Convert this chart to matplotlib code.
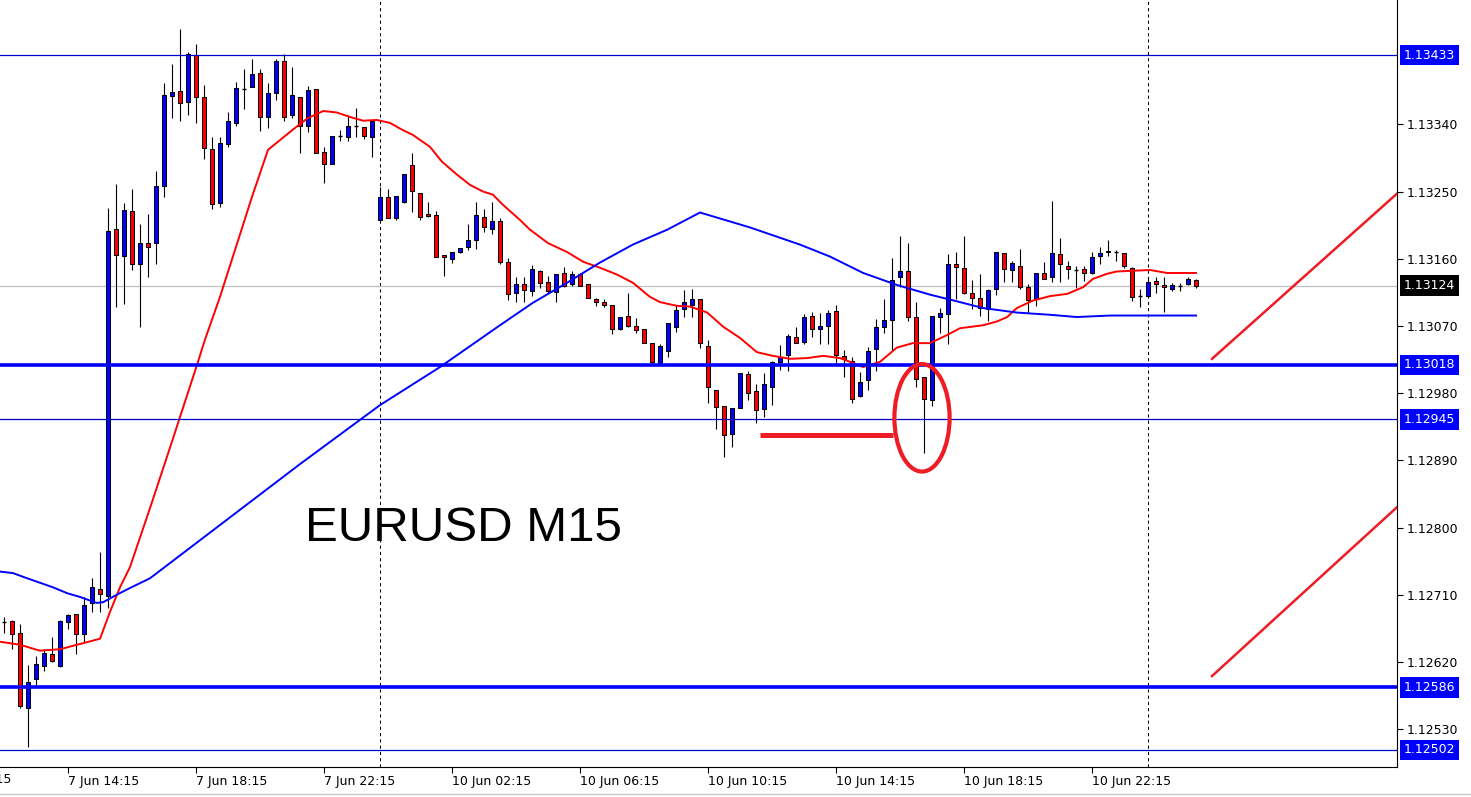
import numpy as np
import matplotlib.pyplot as plt
from matplotlib.patches import Ellipse
from matplotlib.transforms import blended_transform_factory

# EURUSD M15 candles, 7 Jun 12:15 .. 11 Jun 01:30 (one entry per bar)
opens = [1.12674, 1.12675, 1.12659, 1.12558, 1.12597, 1.12615, 1.12631, 1.12615, 1.12674, 1.12684,
         1.12657, 1.12699, 1.12718, 1.12708, 1.13200, 1.13164, 1.13224, 1.13153, 1.13181, 1.13181,
         1.13258, 1.13378, 1.13385, 1.13370, 1.13433, 1.13377, 1.13307, 1.13235, 1.13314, 1.13342,
         1.13388, 1.13390, 1.13409, 1.13350, 1.13382, 1.13425, 1.13353, 1.13377, 1.13338, 1.13388,
         1.13303, 1.13287, 1.13325, 1.13323, 1.13338, 1.13337, 1.13323, 1.13212, 1.13243, 1.13215,
         1.13236, 1.13285, 1.13248, 1.13220, 1.13219, 1.13165, 1.13160, 1.13169, 1.13176, 1.13185,
         1.13216, 1.13200, 1.13211, 1.13156, 1.13114, 1.13126, 1.13117, 1.13144, 1.13129, 1.13116,
         1.13141, 1.13126, 1.13140, 1.13126, 1.13106, 1.13102, 1.13098, 1.13066, 1.13084, 1.13070,
         1.13066, 1.13047, 1.13021, 1.13037, 1.13069, 1.13093, 1.13098, 1.13106, 1.13043, 1.12984,
         1.12963, 1.12925, 1.12960, 1.13006, 1.12983, 1.12959, 1.12988, 1.13022, 1.13031, 1.13055,
         1.13049, 1.13084, 1.13066, 1.13070, 1.13090, 1.13030, 1.13023, 1.12976, 1.12998, 1.13039,
         1.13069, 1.13078, 1.13135, 1.13144, 1.13082, 1.13002, 1.12971, 1.13082, 1.13086, 1.13153,
         1.13148, 1.13114, 1.13108, 1.13093, 1.13120, 1.13168, 1.13145, 1.13151, 1.13122, 1.13106,
         1.13141, 1.13136, 1.13167, 1.13151, 1.13145, 1.13147, 1.13141, 1.13164, 1.13169, 1.13169,
         1.13168, 1.13148, 1.13110, 1.13110, 1.13130, 1.13125, 1.13120, 1.13124, 1.13126, 1.13132]
highs = [1.12680, 1.12676, 1.12671, 1.12616, 1.12628, 1.12637, 1.12653, 1.12676, 1.12684, 1.12684,
         1.12707, 1.12732, 1.12767, 1.13228, 1.13260, 1.13235, 1.13254, 1.13206, 1.13220, 1.13278,
         1.13396, 1.13421, 1.13468, 1.13437, 1.13448, 1.13393, 1.13323, 1.13323, 1.13356, 1.13397,
         1.13414, 1.13427, 1.13414, 1.13396, 1.13427, 1.13435, 1.13417, 1.13377, 1.13392, 1.13388,
         1.13310, 1.13325, 1.13333, 1.13352, 1.13362, 1.13337, 1.13345, 1.13256, 1.13254, 1.13244,
         1.13274, 1.13302, 1.13248, 1.13236, 1.13224, 1.13165, 1.13169, 1.13175, 1.13206, 1.13236,
         1.13227, 1.13236, 1.13215, 1.13161, 1.13135, 1.13135, 1.13152, 1.13145, 1.13137, 1.13140,
         1.13149, 1.13143, 1.13141, 1.13126, 1.13108, 1.13106, 1.13098, 1.13082, 1.13114, 1.13081,
         1.13066, 1.13047, 1.13046, 1.13074, 1.13098, 1.13118, 1.13120, 1.13106, 1.13051, 1.12984,
         1.12963, 1.12960, 1.13007, 1.13010, 1.12992, 1.13007, 1.13023, 1.13045, 1.13059, 1.13068,
         1.13086, 1.13089, 1.13088, 1.13092, 1.13098, 1.13038, 1.13029, 1.13009, 1.13042, 1.13080,
         1.13106, 1.13161, 1.13191, 1.13181, 1.13102, 1.13002, 1.13084, 1.13094, 1.13167, 1.13169,
         1.13191, 1.13132, 1.13140, 1.13120, 1.13169, 1.13168, 1.13157, 1.13173, 1.13126, 1.13141,
         1.13156, 1.13238, 1.13188, 1.13157, 1.13151, 1.13151, 1.13169, 1.13176, 1.13185, 1.13172,
         1.13168, 1.13149, 1.13120, 1.13135, 1.13135, 1.13135, 1.13128, 1.13128, 1.13135, 1.13133]
lows = [1.12659, 1.12637, 1.12558, 1.12506, 1.12589, 1.12608, 1.12620, 1.12613, 1.12664, 1.12631,
        1.12645, 1.12687, 1.12687, 1.12692, 1.13096, 1.13100, 1.13145, 1.13069, 1.13136, 1.13153,
        1.13243, 1.13349, 1.13345, 1.13353, 1.13342, 1.13294, 1.13227, 1.13230, 1.13310, 1.13338,
        1.13361, 1.13390, 1.13331, 1.13335, 1.13373, 1.13345, 1.13349, 1.13302, 1.13330, 1.13302,
        1.13262, 1.13287, 1.13318, 1.13318, 1.13323, 1.13321, 1.13297, 1.13212, 1.13214, 1.13212,
        1.13235, 1.13223, 1.13212, 1.13216, 1.13163, 1.13137, 1.13155, 1.13168, 1.13172, 1.13173,
        1.13196, 1.13193, 1.13153, 1.13105, 1.13102, 1.13102, 1.13110, 1.13121, 1.13114, 1.13102,
        1.13122, 1.13124, 1.13124, 1.13108, 1.13097, 1.13096, 1.13059, 1.13065, 1.13069, 1.13061,
        1.13047, 1.13021, 1.13021, 1.13029, 1.13062, 1.13082, 1.13082, 1.13041, 1.12967, 1.12932,
        1.12895, 1.12908, 1.12960, 1.12971, 1.12940, 1.12948, 1.12964, 1.13011, 1.13010, 1.13047,
        1.13046, 1.13055, 1.13046, 1.13046, 1.13021, 1.13002, 1.12967, 1.12975, 1.12984, 1.13010,
        1.13061, 1.13038, 1.13122, 1.13077, 1.12988, 1.12900, 1.12963, 1.13061, 1.13046, 1.13106,
        1.13113, 1.13093, 1.13084, 1.13077, 1.13112, 1.13129, 1.13129, 1.13120, 1.13088, 1.13097,
        1.13133, 1.13129, 1.13129, 1.13133, 1.13121, 1.13130, 1.13139, 1.13153, 1.13164, 1.13157,
        1.13148, 1.13104, 1.13096, 1.13110, 1.13114, 1.13089, 1.13117, 1.13117, 1.13125, 1.13121]
closes = [1.12674, 1.12657, 1.12561, 1.12593, 1.12617, 1.12632, 1.12621, 1.12675, 1.12683, 1.12657,
          1.12696, 1.12720, 1.12711, 1.13197, 1.13165, 1.13226, 1.13153, 1.13181, 1.13176, 1.13258,
          1.13380, 1.13384, 1.13369, 1.13435, 1.13377, 1.13309, 1.13234, 1.13315, 1.13345, 1.13389,
          1.13388, 1.13408, 1.13350, 1.13382, 1.13425, 1.13350, 1.13380, 1.13338, 1.13386, 1.13302,
          1.13287, 1.13325, 1.13325, 1.13338, 1.13338, 1.13325, 1.13345, 1.13243, 1.13214, 1.13244,
          1.13274, 1.13251, 1.13216, 1.13218, 1.13163, 1.13163, 1.13169, 1.13175, 1.13185, 1.13219,
          1.13203, 1.13210, 1.13156, 1.13113, 1.13126, 1.13118, 1.13147, 1.13128, 1.13117, 1.13139,
          1.13124, 1.13140, 1.13124, 1.13108, 1.13102, 1.13098, 1.13066, 1.13082, 1.13070, 1.13065,
          1.13047, 1.13022, 1.13043, 1.13074, 1.13092, 1.13102, 1.13106, 1.13047, 1.12988, 1.12962,
          1.12924, 1.12960, 1.13007, 1.12980, 1.12958, 1.12992, 1.13022, 1.13029, 1.13057, 1.13047,
          1.13082, 1.13066, 1.13070, 1.13088, 1.13031, 1.13026, 1.12972, 1.12995, 1.13037, 1.13069,
          1.13078, 1.13132, 1.13144, 1.13082, 1.12999, 1.12972, 1.13084, 1.13088, 1.13153, 1.13149,
          1.13114, 1.13108, 1.13094, 1.13118, 1.13169, 1.13147, 1.13155, 1.13122, 1.13105, 1.13141,
          1.13133, 1.13168, 1.13153, 1.13147, 1.13145, 1.13141, 1.13163, 1.13168, 1.13171, 1.13169,
          1.13151, 1.13109, 1.13110, 1.13129, 1.13126, 1.13122, 1.13125, 1.13124, 1.13133, 1.13124]

# moving averages (bar position, price)
fast_ma_x = [-0.5, 2, 4.5, 7, 9.5, 12, 13.25, 14.5, 15.75, 18.25, 20.75, 24.1, 25.1, 27, 29, 31, 33,
             34.5, 36.1, 37.9, 39.9, 41.6, 43.25, 44.9, 46.6, 48.25, 49.75, 51.1, 53.25, 54.75, 56.6,
             58.25, 59.9, 61.1, 62.4, 64.5, 65.75, 68, 70.4, 72.4, 74.5, 76.6, 78.6, 80.75, 82, 84.1,
             85.75, 87.9, 89.9, 92, 94.1, 96.1, 98.25, 100.4, 102.4, 104.5, 105.75, 107.4, 109.5,
             111.6, 113.6, 115.75, 117.9, 119.5, 122.4, 124.1, 125.4, 126.6, 128.6, 130.75, 132.9,
             134.9, 136.1, 137.9, 139.1, 141.1, 143.25, 145.4, 149]
fast_ma = [1.12647, 1.12643, 1.12635, 1.12637, 1.12644, 1.12651, 1.12687, 1.12720, 1.12747, 1.12826,
           1.12907, 1.13017, 1.13051, 1.13109, 1.13176, 1.13243, 1.13306, 1.13319, 1.13333, 1.13348,
           1.13358, 1.13356, 1.13350, 1.13345, 1.13346, 1.13342, 1.13333, 1.13326, 1.13310, 1.13290,
           1.13273, 1.13259, 1.13250, 1.13246, 1.13232, 1.13212, 1.13199, 1.13181, 1.13169, 1.13156,
           1.13148, 1.13139, 1.13128, 1.13109, 1.13102, 1.13097, 1.13096, 1.13088, 1.13069, 1.13054,
           1.13035, 1.13030, 1.13026, 1.13027, 1.13030, 1.13027, 1.13022, 1.13015, 1.13022, 1.13041,
           1.13047, 1.13047, 1.13058, 1.13067, 1.13071, 1.13076, 1.13082, 1.13094, 1.13104, 1.13110,
           1.13113, 1.13122, 1.13133, 1.13140, 1.13143, 1.13144, 1.13145, 1.13141, 1.13141]
slow_ma_x = [-0.5, 1.1, 2.9, 4.5, 6.1, 7.9, 9.5, 11.6, 12.4, 14.1, 15.75, 18.25, 24.5, 30.75, 37, 47,
             54.5, 62, 66.1, 70.4, 74.5, 78.6, 82.9, 87, 93.25, 99.5, 103.25, 107.4, 111.6, 115.75,
             119.5, 122.4, 126.6, 130.75, 134.1, 138.25, 149]
slow_ma = [1.12741, 1.12739, 1.12732, 1.12726, 1.12720, 1.12712, 1.12707, 1.12699, 1.12700, 1.12710,
           1.12719, 1.12732, 1.12783, 1.12834, 1.12885, 1.12964, 1.13015, 1.13071, 1.13101, 1.13128,
           1.13155, 1.13179, 1.13199, 1.13222, 1.13202, 1.13179, 1.13163, 1.13141, 1.13125, 1.13112,
           1.13102, 1.13094, 1.13088, 1.13085, 1.13082, 1.13084, 1.13084]

# time axis
tick_bars = [-8, 8, 24, 40, 56, 72, 88, 104, 120, 136]
tick_labels = ["7 Jun 10:15", "7 Jun 14:15", "7 Jun 18:15", "7 Jun 22:15", "10 Jun 02:15",
               "10 Jun 06:15", "10 Jun 10:15", "10 Jun 14:15", "10 Jun 18:15", "10 Jun 22:15"]
day_breaks = [47, 143]

# price axis and drawn levels
price_ticks = [1.13340, 1.13250, 1.13160, 1.13070, 1.12980, 1.12890, 1.12800, 1.12710, 1.12620, 1.12530]
thin_levels = [1.13433, 1.12945, 1.12502]
thick_levels = [1.13018, 1.12586]
bid = 1.13124

# hand-drawn annotations (bar position, price)
trend_upper = ([151, 174.2], [1.13026, 1.13248])
trend_lower = ([151, 174.2], [1.12601, 1.12828])
support_seg = ([94.5, 111.1], [1.12924, 1.12924])
circle_center = (114.75, 1.12947)

BLUE = "#0000ff"
RED = "#ff0000"
MARK_RED = "#ee1c24"

fig = plt.figure(figsize=(14.71, 7.97), dpi=100)
ax = fig.add_axes([0, 30 / 797, 1397 / 1471, 767 / 797])
ax.set_xlim(-0.5, 174.125)
ax.set_ylim(1.124792, 1.135067)

# separators and bid line
for d in day_breaks:
    ax.axvline(d, color="black", lw=0.75, linestyle=(0, (3, 3)), zorder=1)
ax.axhline(bid, color="#c0c0c0", lw=0.9, zorder=1)

# candles
idx = np.arange(len(opens))
o = np.array(opens)
h = np.array(highs)
l = np.array(lows)
c = np.array(closes)
up = c > o
dn = c < o
flat = c == o
w = 0.62
ax.vlines(idx, l, h, color="black", lw=0.8, zorder=2)
ax.bar(idx[up], (c - o)[up], bottom=o[up], width=w, color=BLUE, edgecolor="black", linewidth=0.75, zorder=3)
ax.bar(idx[dn], (o - c)[dn], bottom=c[dn], width=w, color=RED, edgecolor="black", linewidth=0.75, zorder=3)
ax.hlines(o[flat], idx[flat] - w / 2, idx[flat] + w / 2, color="black", lw=1.0, zorder=3)

# moving averages
ax.plot(fast_ma_x, fast_ma, color=RED, lw=1.4, zorder=4)
ax.plot(slow_ma_x, slow_ma, color=BLUE, lw=1.4, zorder=4)

# horizontal levels
for lv in thin_levels:
    ax.axhline(lv, color="#0000cc", lw=0.9, zorder=5)
for lv in thick_levels:
    ax.axhline(lv, color=BLUE, lw=2.6, zorder=5)

# annotations
ax.plot(*trend_upper, color=MARK_RED, lw=1.8, zorder=6)
ax.plot(*trend_lower, color=MARK_RED, lw=1.8, zorder=6)
ax.plot(*support_seg, color=MARK_RED, lw=3.6, solid_capstyle="butt", zorder=6)
ax.add_patch(Ellipse(circle_center, width=6.9, height=0.00144, fill=False,
                     edgecolor=MARK_RED, lw=3.0, zorder=6))
ax.text(37.6, 1.12782, "EURUSD M15", fontsize=35.5, family="Liberation Sans",
        color="black", va="baseline", ha="left", zorder=6)

# axes styling
for s in ["left", "top"]:
    ax.spines[s].set_visible(False)
for s in ["right", "bottom"]:
    ax.spines[s].set_color("black")
    ax.spines[s].set_linewidth(0.8)

ax.yaxis.tick_right()
ax.set_yticks(price_ticks)
ax.set_yticklabels(["%.5f" % p for p in price_ticks])
ax.tick_params(axis="y", length=4, width=0.8, pad=3, labelsize=9, colors="black")

ax.set_xticks(tick_bars[1:])
ax.set_xticklabels(tick_labels[1:])
ax.tick_params(axis="x", length=4, width=0.8, pad=2, labelsize=9, colors="black")
for t in ax.get_xticklabels():
    t.set_horizontalalignment("left")

# first, partly hidden time label
xtrans = blended_transform_factory(ax.transData, ax.transAxes)
ax.text(tick_bars[0], -0.0075, tick_labels[0], transform=xtrans, fontsize=9,
        ha="left", va="top", clip_on=False)

# price boxes on the right scale
ytrans = blended_transform_factory(ax.transAxes, ax.transData)
for lv in thin_levels + thick_levels:
    ax.text(1.005, lv, "%.5f" % lv, transform=ytrans, fontsize=9, color="white",
            ha="left", va="center", clip_on=False, zorder=7,
            bbox=dict(boxstyle="square,pad=0.3", fc=BLUE, ec="none"))
ax.text(1.005, bid, "%.5f" % bid, transform=ytrans, fontsize=9, color="white",
        ha="left", va="center", clip_on=False, zorder=7,
        bbox=dict(boxstyle="square,pad=0.3", fc="black", ec="none"))

# bottom window edge
fig.add_artist(plt.Line2D([0, 1], [3 / 797, 3 / 797], transform=fig.transFigure,
                          color="#c8c8c8", lw=1))

fig.savefig("out.png", dpi=100, facecolor="white")
